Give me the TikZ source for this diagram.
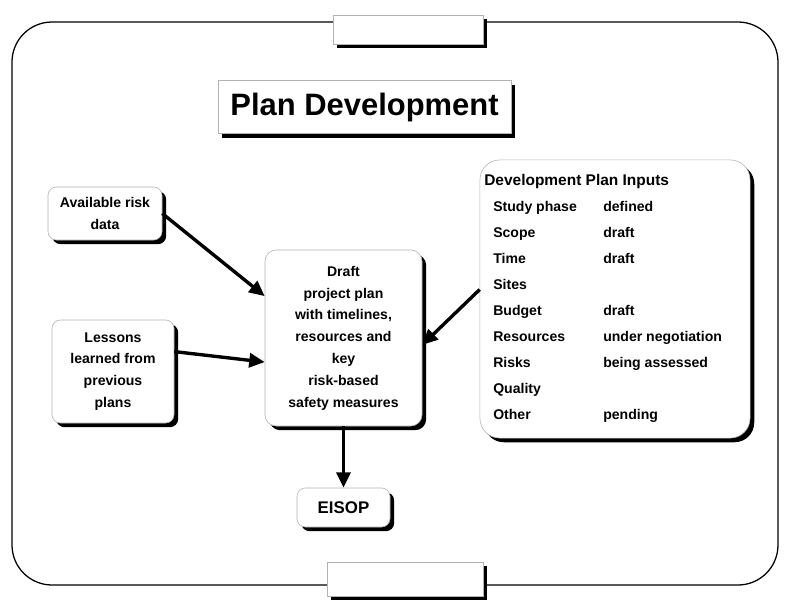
\documentclass[tikz,border=0pt]{standalone}
\usepackage{fontspec}
\setmainfont{Liberation Sans}
\usetikzlibrary{arrows.meta,shadows}

\begin{document}
\begin{tikzpicture}[
        x=0.025cm, y=-0.025cm,
        every node/.style={font=\bfseries\fontsize{10}{15.5}\selectfont},
        frame/.style={draw, line width=0.9pt, rounded corners=1cm},
        box/.style={
            draw=gray!60,
            fill=white,
            rounded corners=6pt,
            inner sep=0pt,
            align=center,
            drop shadow={shadow xshift=3pt, shadow yshift=-3pt, fill=black, opacity=1}
        },
        cell/.style={anchor=base west, inner sep=0pt},
        arrow/.style={-{Triangle[length=11pt,width=10pt]}, line width=2.4pt}
    ]

    \useasboundingbox (0,0) rectangle (785,606);

    % =========================
    % outer frame with the two tabs
    % =========================
    \draw[frame] (12,22) rectangle (778,585);

    \node[box, sharp corners, minimum width=3.75cm, minimum height=0.725cm] (toptab) at (408,29.5) {};
    \node[box, sharp corners, minimum width=3.9cm, minimum height=0.85cm] (bottab) at (405,579) {};

    % =========================
    % title
    % =========================
    \node[box, sharp corners, minimum width=7.325cm, minimum height=1.325cm,
          font=\bfseries\fontsize{22}{26}\selectfont] (title) at (364.5,107) {Plan Development};

    % =========================
    % inputs and plan
    % =========================
    \node[box, minimum width=2.85cm, minimum height=1.325cm] (data) at (105,213.5)
        {Available risk\\data};
    \node[box, minimum width=3.05cm, minimum height=2.575cm] (lessons) at (113,371.5)
        {Lessons\\learned from\\previous\\plans};
    \node[box, rounded corners=8pt, minimum width=3.925cm, minimum height=4.4cm] (draft) at (343.5,338)
        {Draft\\project plan\\with timelines,\\resources and\\key\\risk-based\\safety measures};
    \node[box, minimum width=2.325cm, minimum height=0.975cm,
          font=\bfseries\fontsize{12}{14}\selectfont] (eisop) at (343.5,507.5) {EISOP};

    % =========================
    % table of planning inputs
    % =========================
    \node[box, rounded corners=14pt, minimum width=6.75cm, minimum height=6.95cm] (inputs) at (615,299) {};
    \node[cell, font=\bfseries\fontsize{11}{13}\selectfont] (inhead) at (484,185) {Development Plan Inputs};
    \foreach \a/\b [count=\i] in {Study phase/defined, Scope/draft, Time/draft, Sites/{},
            Budget/draft, Resources/under negotiation, Risks/being assessed, Quality/{}, Other/pending} {
        \node[cell] (ina\i) at (493,{211+26*(\i-1)}) {\a};
        \node[cell] (inb\i) at (603,{211+26*(\i-1)}) {\b};
    }

    % =========================
    % connectors
    % =========================
    \draw[arrow] (data.east) -- (draft.152);
    \draw[arrow] (lessons.18) -- (draft.197);
    \draw[arrow] (inputs.176) -- (draft.355);
    \draw[arrow] (draft.south) -- (eisop.north);

\end{tikzpicture}
\end{document}
